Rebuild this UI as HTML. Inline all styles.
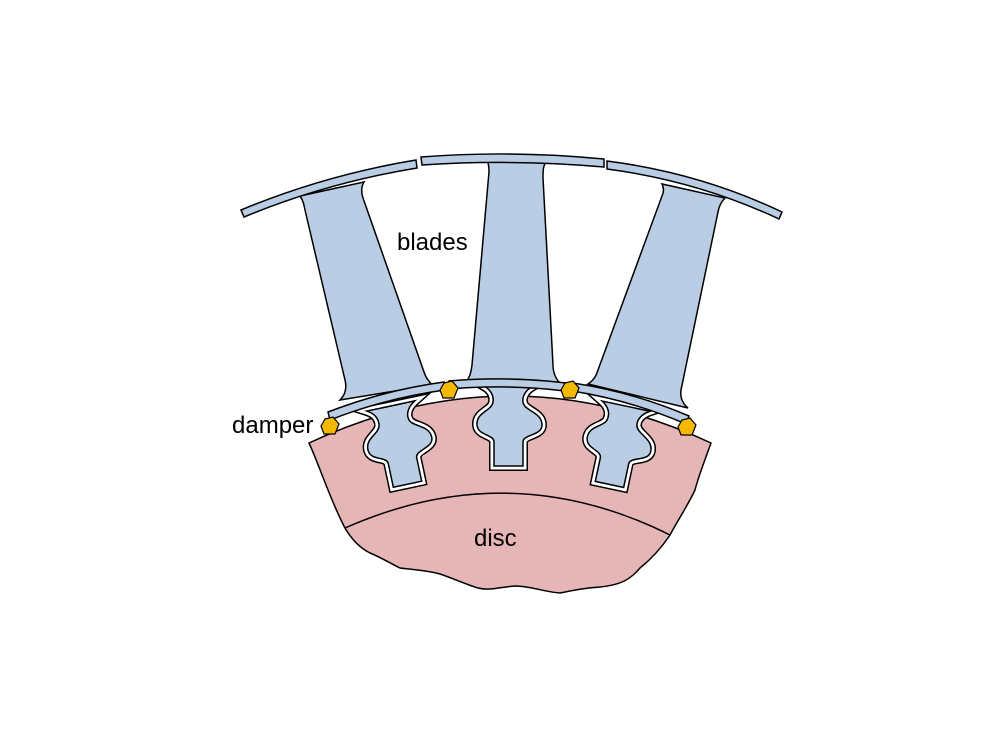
<!DOCTYPE html>
<html><head><meta charset="utf-8"><style>
html,body{margin:0;padding:0;background:#fff;width:1000px;height:750px;overflow:hidden}
text{font-family:"Liberation Sans",sans-serif;fill:#000}
</style></head><body>
<svg width="1000" height="750" viewBox="0 0 1000 750" xmlns="http://www.w3.org/2000/svg">
<defs>
<path id="root" d="M484,386 C491,390 494,396 493,402 C492,411 476,412 477,425 C478,436 494,434 494,442 L494,466 L523,466 L523,442 C523,434 542,436 542,425 C542,412 524,411 523,402 C522,396 526,390 533,386 Z"/>
</defs>
<path d="M309,443 Q510,349 711,443 C703,465 698,478 695,490 C688,505 678,520 670,535 C660,550 650,560 640,568 C630,580 620,585 600,587 C585,588 575,590 560,593 C545,592 530,586 515,586 C500,587 490,591 478,588 C465,584 452,578 440,574 C425,570 415,570 400,568 C390,563 380,557 370,553 C360,548 352,540 345,528 C338,515 332,500 326,485 C320,470 315,456 309,443 Z" fill="#e6b6b6" stroke="#000" stroke-width="1.5"/>
<path d="M345,528 Q510,455 670,535" fill="none" stroke="#000" stroke-width="1.5"/>
<g transform="translate(-117,20) rotate(-12 508 389)">
<use href="#root" fill="#fff" stroke="#000" stroke-width="10"/>
<use href="#root" fill="#fff" stroke="#fff" stroke-width="7"/>
<use href="#root" fill="#b9cde4" stroke="#000" stroke-width="1.5"/>
</g>
<g>
<use href="#root" fill="#fff" stroke="#000" stroke-width="10"/>
<use href="#root" fill="#fff" stroke="#fff" stroke-width="7"/>
<use href="#root" fill="#b9cde4" stroke="#000" stroke-width="1.5"/>
</g>
<g transform="translate(117,20) rotate(12 508 389)">
<use href="#root" fill="#fff" stroke="#000" stroke-width="10"/>
<use href="#root" fill="#fff" stroke="#fff" stroke-width="7"/>
<use href="#root" fill="#b9cde4" stroke="#000" stroke-width="1.5"/>
</g>
<g fill="#b9cde4" stroke="#000" stroke-width="1.5">
<path d="M300,196 C303,200 304,205 305,210 L345,380 C347,388 345,395 340,400 L432,385 C428,380 426,378 424,372 L363,198 C361,192 361,187 364,182 Z"/>
<path d="M487,160 C489,164 489,168 489,172 L472,365 C471,372 470,378 465,383 L560,383 C555,378 553,372 553,365 L543,178 C543,170 543,165 547,161 Z"/>
<path d="M662,184 C664,188 664,192 662,196 L598,370 C596,376 594,380 588,384 L688,408 C682,403 680,397 681,390 L718,212 C719,206 721,202 725,198 Z"/>
</g>
<g fill="#b9cde4" stroke="#000" stroke-width="1.5">
<path d="M328,412 Q385,390 444,382 L445,390 Q386,398 330,420 Z"/>
<path d="M449,381 Q508,376 566,383 L565,391 Q508,384 450,389 Z"/>
<path d="M573,383 Q633,392 689,416 L686,424 Q630,400 572,391 Z"/>
</g>
<g fill="#b9cde4" stroke="#000" stroke-width="1.5">
<path d="M241,210 Q325,175 416,160 L417,168 Q326,183 244,217 Z"/>
<path d="M421,157 Q512,150 604,159 L604,167 Q512,159 422,165 Z"/>
<path d="M607,161 Q700,173 782,212 L779,219 Q698,181 607,169 Z"/>
</g>
<g fill="#f5b800" stroke="#000" stroke-width="1.2">
<polygon points="325,419 333,417 339,424 335,434 324,434 321,426"/>
<polygon points="444,383 452,381 458,388 454,398 443,398 440,390"/>
<polygon points="565,383 573,381 579,388 575,398 564,398 561,390"/>
<polygon points="682,420 690,418 696,425 692,435 681,435 678,427"/>
</g>
<text x="397" y="250" font-size="24">blades</text>
<text x="232" y="433" font-size="24">damper</text>
<text x="474" y="546" font-size="24">disc</text>
</svg>
</body></html>
